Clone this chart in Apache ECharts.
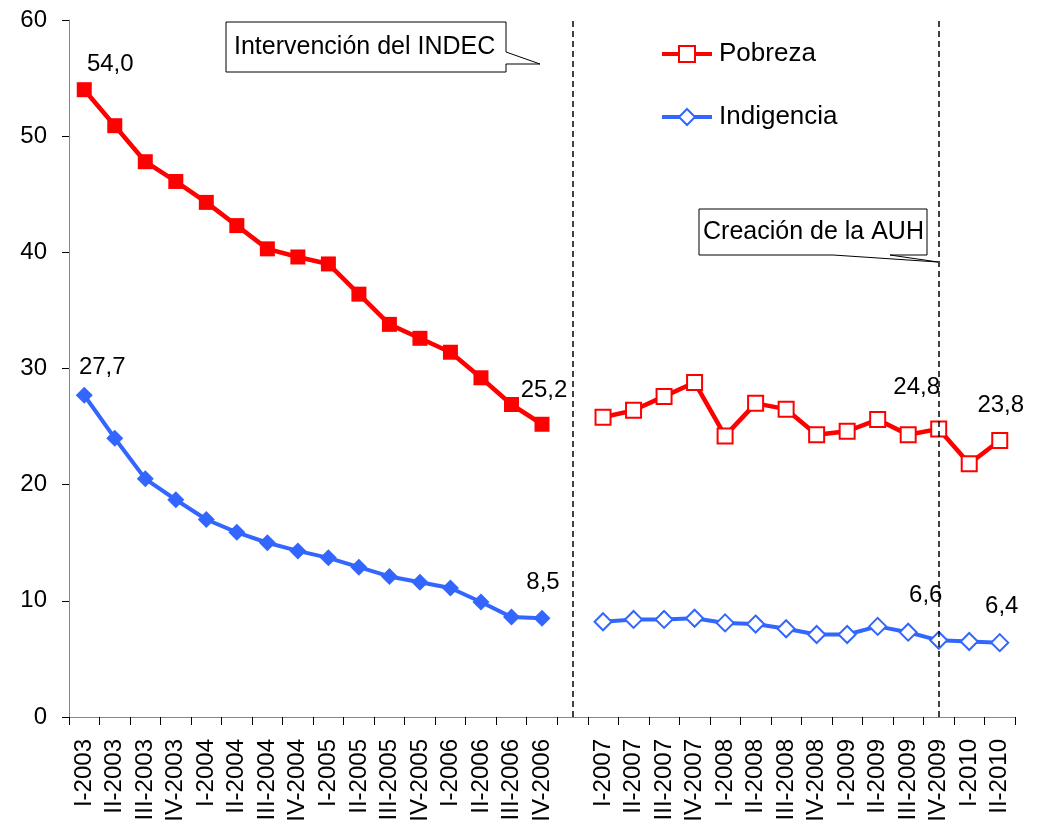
<!DOCTYPE html>
<html>
<head>
<meta charset="utf-8">
<script src="https://cdn.jsdelivr.net/npm/echarts@6/dist/echarts.min.js"></script>
<style>
  html, body { margin: 0; padding: 0; background: #fff; }
  #chart { width: 1042px; height: 831px; }
</style>
</head>
<body>
<div id="chart"></div>
<script>
// trimestres, con un hueco entre 2006 y 2007
const periodos1 = ['I-2003', 'II-2003', 'III-2003', 'IV-2003', 'I-2004', 'II-2004', 'III-2004', 'IV-2004',
    'I-2005', 'II-2005', 'III-2005', 'IV-2005', 'I-2006', 'II-2006', 'III-2006', 'IV-2006'];
const periodos2 = ['I-2007', 'II-2007', 'III-2007', 'IV-2007', 'I-2008', 'II-2008', 'III-2008', 'IV-2008',
    'I-2009', 'II-2009', 'III-2009', 'IV-2009', 'I-2010', 'II-2010'];

const pobreza1 = [54.0, 50.9, 47.8, 46.1, 44.3, 42.3, 40.3, 39.6, 39.0, 36.4, 33.8, 32.6, 31.4, 29.2, 26.9, 25.2];
const indigencia1 = [27.7, 24.0, 20.5, 18.7, 17.0, 15.9, 15.0, 14.3, 13.7, 12.9, 12.1, 11.6, 11.1, 9.9, 8.6, 8.5];
const pobreza2 = [25.8, 26.4, 27.6, 28.8, 24.2, 27.0, 26.5, 24.3, 24.6, 25.6, 24.3, 24.8, 21.8, 23.8];
const indigencia2 = [8.2, 8.4, 8.4, 8.5, 8.1, 8.0, 7.6, 7.1, 7.1, 7.8, 7.3, 6.6, 6.5, 6.4];

// puntos con etiqueta: categoría -> desplazamiento del texto respecto del punto
const etiquetasPob = { 'I-2003': [26, -25], 'IV-2006': [2, -34], 'IV-2009': [-22, -42], 'II-2010': [1, -35] };
const etiquetasInd = { 'I-2003': [18, -28], 'IV-2006': [1, -36], 'IV-2009': [-13, -45], 'II-2010': [2, -36] };

const categorias = periodos1.concat([''], periodos2);
const n1 = periodos1.length;
const fuente = 'Liberation Sans, Arial, sans-serif';

function armar(valores, offset, etiquetas) {
    const out = categorias.map(() => null);
    valores.forEach((v, i) => {
        const cat = categorias[offset + i];
        const item = { value: v };
        if (etiquetas[cat]) {
            item.label = {
                show: true,
                position: 'inside',
                offset: etiquetas[cat],
                formatter: p => p.value.toFixed(1).replace('.', ','),
                fontSize: 24,
                color: '#000',
                fontFamily: fuente
            };
        }
        out[offset + i] = item;
    });
    return out;
}

const rojo = '#ff0000';
const azul = '#3366ff';

const myChart = echarts.init(document.getElementById('chart'));

const option = {
    backgroundColor: '#ffffff',
    animation: false,
    textStyle: { fontFamily: fuente },
    grid: { left: 69, right: 27, top: 20, bottom: 114 },
    legend: {
        data: ['Pobreza', 'Indigencia'],
        orient: 'vertical',
        left: 655,
        top: 36,
        itemWidth: 50,
        itemHeight: 20,
        itemGap: 37,
        lineStyle: { width: 4 },
        textStyle: { fontSize: 26, color: '#000', padding: [0, 0, 0, 2] }
    },
    xAxis: {
        type: 'category',
        data: categorias,
        boundaryGap: true,
        axisLine: { lineStyle: { color: '#868686', width: 1 } },
        axisTick: { show: true, interval: 0, length: 8, lineStyle: { color: '#000' } },
        axisLabel: { interval: 0, rotate: 90, fontSize: 24, color: '#000', margin: 22 }
    },
    yAxis: {
        type: 'value',
        min: 0,
        max: 60,
        interval: 10,
        splitLine: { show: false },
        axisLine: { show: true, lineStyle: { color: '#868686', width: 1 } },
        axisTick: { show: true, length: 7, lineStyle: { color: '#000' } },
        axisLabel: { fontSize: 24, color: '#000', margin: 22 }
    },
    series: [
        {
            name: 'Pobreza 2003-2006',
            type: 'line',
            data: armar(pobreza1, 0, etiquetasPob),
            symbol: 'rect',
            symbolSize: 15,
            lineStyle: { color: rojo, width: 4.5 },
            itemStyle: { color: rojo },
            z: 3
        },
        {
            name: 'Indigencia 2003-2006',
            type: 'line',
            data: armar(indigencia1, 0, etiquetasInd),
            symbol: 'diamond',
            symbolSize: 17,
            lineStyle: { color: azul, width: 4 },
            itemStyle: { color: azul },
            z: 3,
            markLine: {
                silent: true,
                symbol: 'none',
                label: { show: false },
                lineStyle: { color: '#000', type: [6, 4], width: 1.5 },
                data: [{ xAxis: n1 }, { xAxis: 'IV-2009' }]
            }
        },
        {
            name: 'Pobreza',
            type: 'line',
            data: armar(pobreza2, n1 + 1, etiquetasPob),
            symbol: 'emptyRect',
            symbolSize: 15,
            color: rojo,
            lineStyle: { color: rojo, width: 4.5 },
            itemStyle: { color: rojo, borderColor: rojo, borderWidth: 2 },
            z: 3
        },
        {
            name: 'Indigencia',
            type: 'line',
            data: armar(indigencia2, n1 + 1, etiquetasInd),
            symbol: 'emptyDiamond',
            symbolSize: 17,
            color: azul,
            lineStyle: { color: azul, width: 4 },
            itemStyle: { color: azul, borderColor: azul, borderWidth: 2 },
            z: 3
        }
    ],
    graphic: [
        {
            type: 'polygon',
            shape: { points: [[226, 22], [506, 22], [506, 52], [540, 64], [506, 64], [506, 72], [226, 72]] },
            style: { fill: '#fff', stroke: '#000', lineWidth: 1 },
            z: 10
        },
        {
            type: 'text',
            x: 234,
            y: 47,
            style: { text: 'Intervención del INDEC', fontSize: 25, fill: '#000', fontFamily: fuente, verticalAlign: 'middle' },
            z: 11
        },
        {
            type: 'polygon',
            shape: { points: [[699, 209], [927, 209], [927, 255], [890, 255], [938, 262], [833, 255], [699, 255]] },
            style: { fill: '#fff', stroke: '#000', lineWidth: 1 },
            z: 10
        },
        {
            type: 'text',
            x: 703,
            y: 232,
            style: { text: 'Creación de la AUH', fontSize: 25, fill: '#000', fontFamily: fuente, verticalAlign: 'middle' },
            z: 11
        }
    ]
};

myChart.setOption(option);
window.addEventListener('resize', () => myChart.resize());
</script>
</body>
</html>
